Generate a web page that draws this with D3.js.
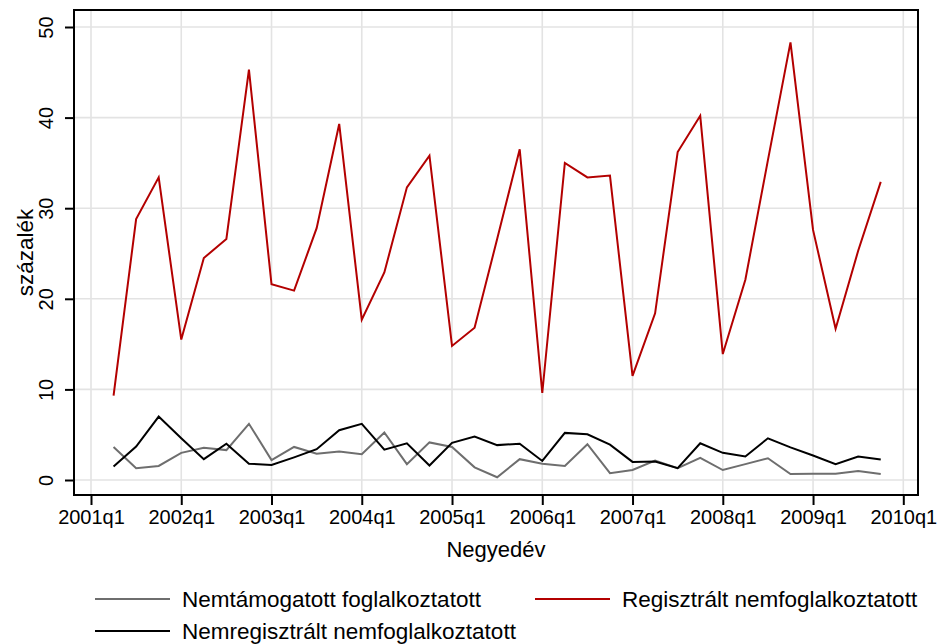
<!DOCTYPE html>
<html>
<head>
<meta charset="utf-8">
<script src="https://cdn.jsdelivr.net/npm/d3@7"></script>
<style>
    body { margin: 0; background: #fff; }
    text { font-family: "Liberation Sans", Arial, sans-serif; fill: #000; }
</style>
</head>
<body>
<svg id="chart" width="939" height="644"></svg>
<script>
// Quarters with data, 2001q2 .. 2009q4
var quarters = [];
for (var yr = 2001; yr <= 2009; yr++) {
    for (var q = 1; q <= 4; q++) {
        if (yr === 2001 && q === 1) continue;
        quarters.push(yr + "q" + q);
    }
}

// Tick labels on the x axis
var xTickLabels = ["2001q1", "2002q1", "2003q1", "2004q1", "2005q1",
                   "2006q1", "2007q1", "2008q1", "2009q1", "2010q1"];
var yTicks = [0, 10, 20, 30, 40, 50];

// Series values (százalék)
var nemtamogatott = [3.65, 1.3, 1.55, 3.0, 3.55, 3.3, 6.2, 2.2, 3.65, 2.9, 3.15, 2.85,
    5.25, 1.75, 4.15, 3.65, 1.4, 0.3, 2.3, 1.8, 1.55, 3.95, 0.75, 1.1,
    2.15, 1.3, 2.45, 1.1, 1.75, 2.4, 0.65, 0.7, 0.7, 1.0, 0.65];

var regisztralt = [9.3, 28.8, 33.4, 15.5, 24.5, 26.6, 45.3, 21.6, 20.9, 27.8, 39.3, 17.7,
    22.9, 32.3, 35.8, 14.8, 16.8, 26.6, 36.5, 9.6, 35.0, 33.4, 33.6, 11.5,
    18.4, 36.2, 40.2, 13.9, 22.1, 35.3, 48.3, 27.6, 16.7, 25.3, 32.9];

var nemregisztralt = [1.5, 3.7, 7.0, 4.6, 2.3, 4.0, 1.8, 1.65, 2.5, 3.4, 5.5, 6.2,
    3.35, 4.05, 1.6, 4.1, 4.8, 3.85, 4.0, 2.1, 5.2, 5.05, 3.9, 2.0,
    2.05, 1.3, 4.05, 3.0, 2.6, 4.6, 3.6, 2.7, 1.75, 2.6, 2.25];

var seriesNames = ["Nemtámogatott foglalkoztatott", "Regisztrált nemfoglalkoztatott",
                   "Nemregisztrált nemfoglalkoztatott"];
var seriesColors = ["#6e6e6e", "#b30000", "#000000"];

// quarter label -> index counted from 2001q1
var qIndex = function(s) {
    return (+s.slice(0, 4) - 2001) * 4 + (+s.slice(5) - 1);
};

var svg = d3.select("#chart");

// Plot frame
var frame = {left: 74, right: 918, top: 10, bottom: 495};

var x = d3.scaleLinear()
    .domain([0, 36])
    .range([91, 903.3]);

var y = d3.scaleLinear()
    .domain([0, 50])
    .range([480, 27]);

// Grid
svg.append("g")
    .selectAll("line")
    .data(xTickLabels)
    .join("line")
    .attr("x1", function(d) { return x(qIndex(d)); })
    .attr("x2", function(d) { return x(qIndex(d)); })
    .attr("y1", frame.top)
    .attr("y2", frame.bottom)
    .attr("stroke", "#e3e3e3")
    .attr("stroke-width", 1.6);

svg.append("g")
    .selectAll("line")
    .data(yTicks)
    .join("line")
    .attr("x1", frame.left)
    .attr("x2", frame.right)
    .attr("y1", function(d) { return y(d); })
    .attr("y2", function(d) { return y(d); })
    .attr("stroke", "#e3e3e3")
    .attr("stroke-width", 1.6);

// Lines
var line = d3.line()
    .x(function(d, i) { return x(qIndex(quarters[i])); })
    .y(function(d) { return y(d); });

var allSeries = [nemtamogatott, regisztralt, nemregisztralt];

svg.append("g")
    .selectAll("path")
    .data(allSeries)
    .join("path")
    .attr("d", line)
    .attr("fill", "none")
    .attr("stroke", function(d, i) { return seriesColors[i]; })
    .attr("stroke-width", 2)
    .attr("stroke-linejoin", "miter");

// Frame
svg.append("rect")
    .attr("x", frame.left)
    .attr("y", frame.top)
    .attr("width", frame.right - frame.left)
    .attr("height", frame.bottom - frame.top)
    .attr("fill", "none")
    .attr("stroke", "#000")
    .attr("stroke-width", 2);

// X axis
var xAxis = d3.axisBottom(x)
    .tickValues(xTickLabels.map(qIndex))
    .tickFormat(function(d, i) { return xTickLabels[i]; })
    .tickSize(10)
    .tickPadding(5);

var gx = svg.append("g")
    .attr("transform", "translate(0," + frame.bottom + ")")
    .call(xAxis);
gx.select(".domain").remove();
gx.selectAll(".tick line").attr("stroke", "#000").attr("stroke-width", 2);
gx.selectAll(".tick text")
    .style("font-family", "'Liberation Sans', Arial, sans-serif")
    .style("font-size", "20px")
    .attr("fill", "#000");

// Y axis
var yAxis = d3.axisLeft(y)
    .tickValues(yTicks)
    .tickSize(9)
    .tickPadding(0);

var gy = svg.append("g")
    .attr("transform", "translate(" + frame.left + ",0)")
    .call(yAxis);
gy.select(".domain").remove();
gy.selectAll(".tick line").attr("stroke", "#000").attr("stroke-width", 2);
gy.selectAll(".tick text")
    .attr("x", 0)
    .attr("dy", 0)
    .attr("text-anchor", "middle")
    .attr("transform", "translate(-21,0) rotate(-90)")
    .style("font-family", "'Liberation Sans', Arial, sans-serif")
    .style("font-size", "20px")
    .attr("fill", "#000");

// Axis titles
svg.append("text")
    .attr("x", (frame.left + frame.right) / 2)
    .attr("y", 557)
    .attr("text-anchor", "middle")
    .style("font-size", "22px")
    .text("Negyedév");

svg.append("text")
    .attr("transform", "translate(33," + ((frame.top + frame.bottom) / 2) + ") rotate(-90)")
    .attr("text-anchor", "middle")
    .style("font-size", "22.5px")
    .text("százalék");

// Legend
var legendPos = [[95, 599], [535, 599], [95, 631]];

var legend = svg.append("g")
    .selectAll("g")
    .data(seriesNames)
    .join("g")
    .attr("transform", function(d, i) {
        return "translate(" + legendPos[i][0] + "," + legendPos[i][1] + ")";
    });

legend.append("line")
    .attr("x1", 0)
    .attr("x2", 75)
    .attr("stroke", function(d, i) { return seriesColors[i]; })
    .attr("stroke-width", 2);

legend.append("text")
    .attr("x", 87)
    .attr("dy", "0.35em")
    .style("font-size", "22.5px")
    .text(function(d) { return d; });
</script>
</body>
</html>
